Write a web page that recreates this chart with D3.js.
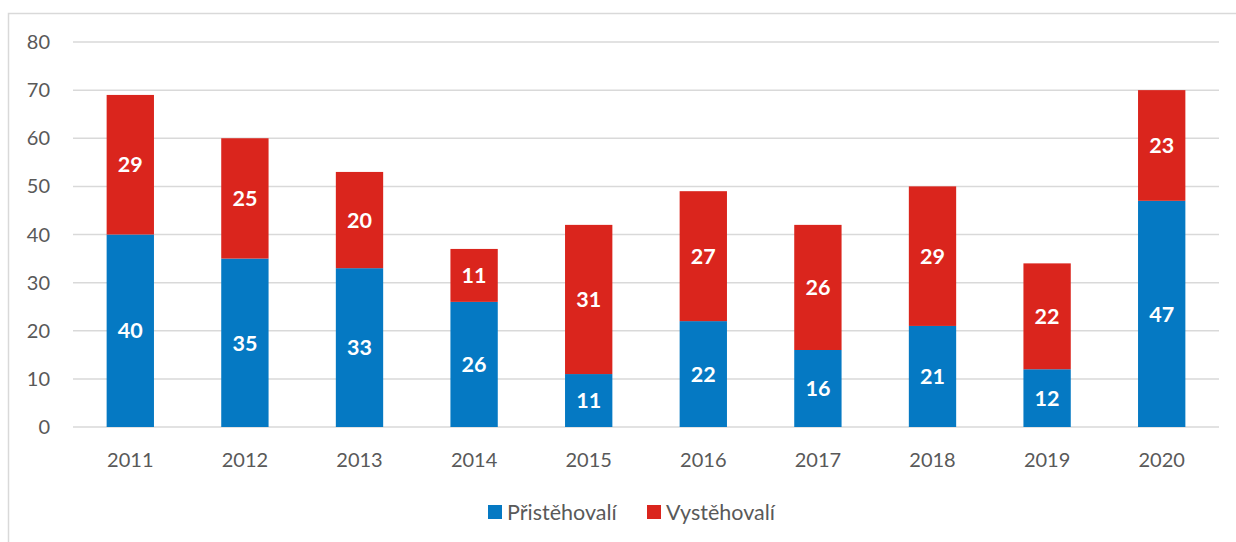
<!DOCTYPE html>
<html>
<head>
<meta charset="utf-8">
<script src="https://cdn.jsdelivr.net/npm/d3@7"></script>
<style>
  body { margin: 0; background: #fff; }
  text { font-family: Lato, "Open Sans", sans-serif; }
</style>
</head>
<body>
<script>
// data
const years = ["2011", "2012", "2013", "2014", "2015", "2016", "2017", "2018", "2019", "2020"];
const prist = [40, 35, 33, 26, 11, 22, 16, 21, 12, 47];
const vyst = [29, 25, 20, 11, 31, 27, 26, 29, 22, 23];
const seriesNames = ["Přistěhovalí", "Vystěhovalí"];
const yTicks = [0, 10, 20, 30, 40, 50, 60, 70, 80];

const width = 1236, height = 542;
const colors = ["#0579C3", "#DA251D"];

const svg = d3.select("body").append("svg")
  .attr("width", width).attr("height", height);

// chart frame
svg.append("rect")
  .attr("x", 8.5).attr("y", 13.5)
  .attr("width", 1240).attr("height", 540)
  .attr("fill", "none").attr("stroke", "#d9d9d9").attr("stroke-width", 1.5);

const x = d3.scaleBand().domain(years).range([73, 1219]).paddingInner(0.587).paddingOuter(0.2935);
const y = d3.scaleLinear().domain([0, 80]).range([427, 42]);

// gridlines
svg.append("g").selectAll("line").data(yTicks).enter().append("line")
  .attr("x1", 73).attr("x2", 1219)
  .attr("y1", d => y(d)).attr("y2", d => y(d))
  .attr("stroke", "#d9d9d9").attr("stroke-width", 1.5);

// y labels
svg.append("g").selectAll("text").data(yTicks).enter().append("text")
  .attr("x", 50).attr("y", d => y(d))
  .attr("dy", "0.35em").attr("text-anchor", "end")
  .attr("font-size", 20).attr("fill", "#595959")
  .text(d => d);

// x labels
svg.append("g").selectAll("text").data(years).enter().append("text")
  .attr("x", d => x(d) + x.bandwidth() / 2).attr("y", 460)
  .attr("dy", "0.35em").attr("text-anchor", "middle")
  .attr("font-size", 20).attr("fill", "#595959")
  .text(d => d);

const rows = years.map((yr, i) => ({ year: yr, p: prist[i], v: vyst[i] }));
const stack = d3.stack().keys(["p", "v"])(rows);

const layers = svg.append("g").selectAll("g").data(stack).enter().append("g")
  .attr("fill", (d, i) => colors[i]);

layers.selectAll("rect").data(d => d).enter().append("rect")
  .attr("x", d => x(d.data.year))
  .attr("width", x.bandwidth())
  .attr("y", d => y(d[1]))
  .attr("height", d => y(d[0]) - y(d[1]));

layers.selectAll("text").data(d => d).enter().append("text")
  .attr("x", d => x(d.data.year) + x.bandwidth() / 2)
  .attr("y", d => y((d[0] + d[1]) / 2))
  .attr("dy", "0.36em").attr("text-anchor", "middle")
  .attr("font-size", 21.5).attr("font-weight", "bold").attr("fill", "#fff")
  .text(d => d[1] - d[0]);

// legend
const legendPos = [488, 647];
const legend = svg.append("g").selectAll("g").data(seriesNames).enter().append("g")
  .attr("transform", (d, i) => "translate(" + legendPos[i] + ",512)");
legend.append("rect")
  .attr("x", 0).attr("y", -7).attr("width", 14).attr("height", 14)
  .attr("fill", (d, i) => colors[i]);
legend.append("text")
  .attr("x", 19).attr("y", 0).attr("dy", "0.35em")
  .attr("font-size", 21.5).attr("fill", "#595959")
  .text(d => d);
</script>
</body>
</html>
